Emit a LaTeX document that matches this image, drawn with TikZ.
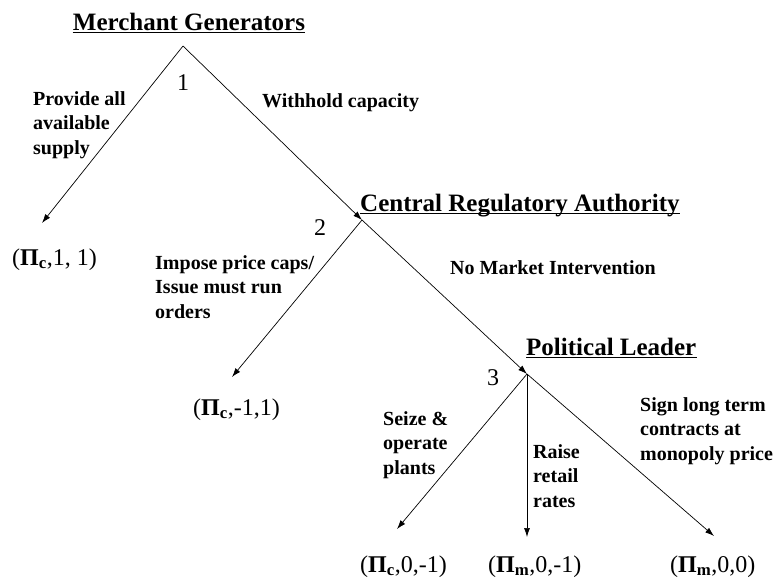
\documentclass[tikz,border=0pt]{standalone}
\usepackage{fontspec}
\setmainfont{Liberation Serif}
\usetikzlibrary{arrows.meta}
\begin{document}
\begin{tikzpicture}[x=1pt,y=-1pt,
  title/.style={inner sep=0pt,font=\fontsize{25}{30}\selectfont\bfseries},
  lbl/.style={inner sep=0pt,align=left,font=\fontsize{20}{24.5}\selectfont\bfseries},
  num/.style={inner sep=0pt,font=\fontsize{24}{28}\selectfont},
  payoff/.style={inner sep=0pt,font=\fontsize{24}{28}\selectfont},
  edge/.style={line width=0.7pt,-{Latex[length=9pt,width=6pt]}},
  uline/.style={line width=1.4pt}]
\useasboundingbox (0,0) rectangle (774,581);
% decision points and arrow ends
\coordinate (n1) at (183,46);
\coordinate (n2) at (362,220);
\coordinate (n3) at (527,374);
\coordinate (e1) at (42,223);
\coordinate (e2) at (232,377);
\coordinate (e3) at (397,529);
\coordinate (e4) at (527,537);
\coordinate (e5) at (714,536);
% titles
\node[title,anchor=base] (tMG) at (189,30) {Merchant Generators};
\node[title,anchor=base west] (tCRA) at (360,211) {Central Regulatory Authority};
\node[title,anchor=base west] (tPL) at (526,355) {Political Leader};
\draw[uline] ([yshift=-2.5pt]tMG.base west) -- ([yshift=-2.5pt]tMG.base east);
\draw[uline] ([yshift=-2.5pt]tCRA.base west) -- ([yshift=-2.5pt]tCRA.base east);
\draw[uline] ([yshift=-2.5pt]tPL.base west) -- ([yshift=-2.5pt]tPL.base east);
% player numbers
\node[num,anchor=base] (k1) at (183,90) {1};
\node[num,anchor=base] (k2) at (320,235) {2};
\node[num,anchor=base] (k3) at (493,385) {3};
% action labels
\node[lbl,anchor=west] (aProv) at (33,125) {Provide all\\available\\supply};
\node[lbl,anchor=base west] (aWith) at (262,107) {Withhold capacity};
\node[lbl,anchor=west] (aImp) at (155,287) {Impose price caps/\\Issue must run\\orders};
\node[lbl,anchor=base west] (aNo) at (450,274) {No Market Intervention};
\node[lbl,anchor=west] (aSeize) at (383,445) {Seize \&\\operate\\plants};
\node[lbl,anchor=west] (aRaise) at (533,476) {Raise\\retail\\rates};
\node[lbl,anchor=west] (aSign) at (640,431) {Sign long term\\contracts at\\monopoly price};
% payoffs
\node[payoff,anchor=base west] (p1) at (12,265) {(\textbf{Π}\textsubscript{\bfseries c},1, 1)};
\node[payoff,anchor=base west] (p2) at (193,415) {(\textbf{Π}\textsubscript{\bfseries c},-1,1)};
\node[payoff,anchor=base west] (p3) at (360,572) {(\textbf{Π}\textsubscript{\bfseries c},0,-1)};
\node[payoff,anchor=base west] (p4) at (488,572) {(\textbf{Π}\textsubscript{\bfseries m},0,-1)};
\node[payoff,anchor=base west] (p5) at (670,572) {(\textbf{Π}\textsubscript{\bfseries m},0,0)};
% connectors
\draw[edge] (n1) -- (e1);
\draw[edge] (n1) -- (n2);
\draw[edge] (n2) -- (e2);
\draw[edge] (n2) -- (n3);
\draw[edge] (n3) -- (e3);
\draw[edge] (n3) -- (e4);
\draw[edge] (n3) -- (e5);
\end{tikzpicture}
\end{document}
